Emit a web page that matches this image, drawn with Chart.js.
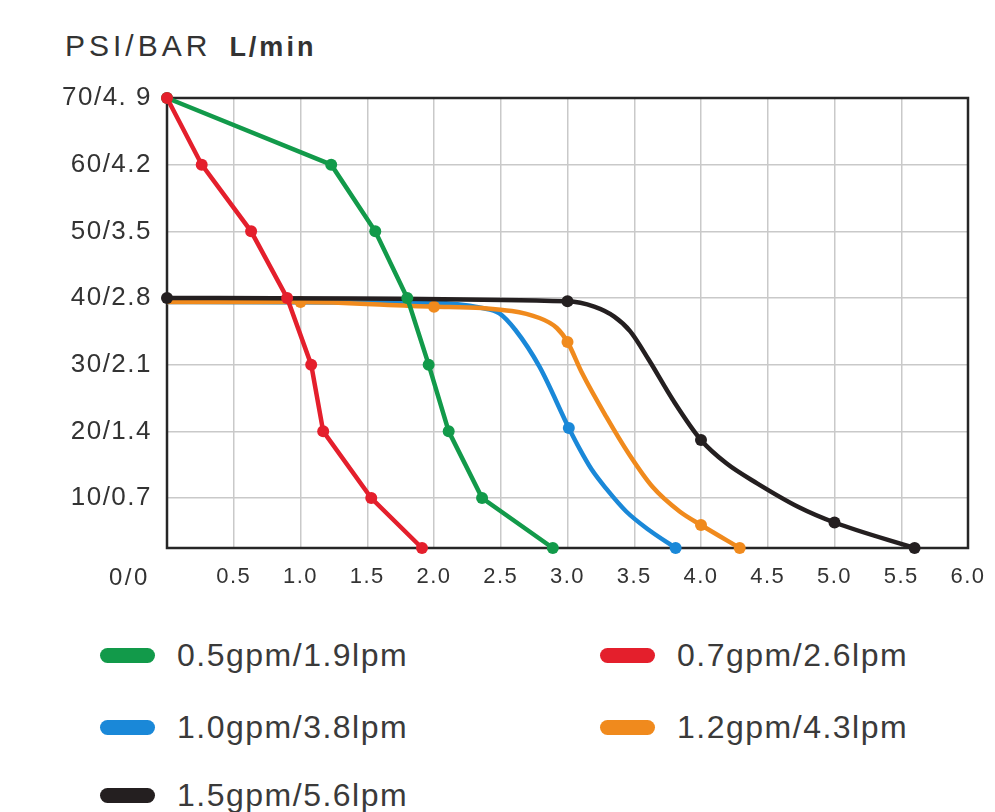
<!DOCTYPE html>
<html>
<head>
<meta charset="utf-8">
<script src="https://cdn.jsdelivr.net/npm/chart.js@4/dist/chart.umd.min.js"></script>
<style>
  body { margin: 0; background: #fff; width: 995px; height: 812px; overflow: hidden; position: relative;
         font-family: "Liberation Sans", Arial, sans-serif; color: #333; }
  #title { position: absolute; left: 65px; top: 31px; white-space: nowrap; line-height: 30px; }
  #title .unit1 { font-size: 30px; letter-spacing: 4px; }
  #title .unit2 { font-size: 27px; font-weight: bold; letter-spacing: 3px; margin-left: 18px; }
  #origin { position: absolute; left: 109px; top: 563px; font-size: 24px; letter-spacing: 2.5px; line-height: 28px; }
  #chartBox { position: absolute; left: 0; top: 0; width: 995px; height: 612px; }
  .legendItem { position: absolute; display: flex; align-items: center; height: 40px; white-space: nowrap; }
  .legendItem .swatch { width: 55px; height: 15px; border-radius: 8px; margin-right: 22px; }
  .legendItem .txt { font-size: 32px; letter-spacing: 1.5px; color: #3a3a3a; }
</style>
</head>
<body>
<div id="title"><span class="unit1">PSI/BAR</span><span class="unit2">L/min</span></div>
<div id="chartBox"><canvas id="pumpChart"></canvas></div>
<div id="origin"></div>
<div id="legend"></div>
<script>
// Axes
const xTicks = [0, 0.5, 1, 1.5, 2, 2.5, 3, 3.5, 4, 4.5, 5, 5.5, 6];
const xTickLabels = ["", "0.5", "1.0", "1.5", "2.0", "2.5", "3.0", "3.5", "4.0", "4.5", "5.0", "5.5", "6.0"];
const yTicks = [10, 20, 30, 40, 50, 60, 70];
const yTickLabels = ["10/0.7", "20/1.4", "30/2.1", "40/2.8", "50/3.5", "60/4.2", "70/4. 9"];
const originLabel = "0/0";

// Series
const seriesNames = ["0.5gpm/1.9lpm", "0.7gpm/2.6lpm", "1.0gpm/3.8lpm", "1.2gpm/4.3lpm", "1.5gpm/5.6lpm"];
const seriesColors = ["#129a4a", "#e41f2c", "#1a88d8", "#f08a1d", "#241f20"];

// 0.5gpm
const greenX = [0, 1.23, 1.56, 1.80, 1.96, 2.11, 2.36, 2.89];
const greenY = [70, 60, 50, 40, 30, 20, 10, 0];
const greenMarks = [1, 1, 1, 1, 1, 1, 1, 1];
// 0.7gpm
const redX = [0, 0.26, 0.63, 0.90, 1.08, 1.17, 1.53, 1.91];
const redY = [70, 60, 50, 40, 30, 20, 10, 0];
const redMarks = [1, 1, 1, 1, 1, 1, 1, 1];
// 1.0gpm
const blueX = [0, 2.0, 2.36, 2.49, 2.61, 2.79, 3.01, 3.09, 3.18, 3.29, 3.44, 3.61, 3.81];
const blueY = [39.4, 39.3, 38.5, 37.7, 35.2, 29.7, 20.5, 17.4, 14.3, 11.4, 7.3, 3.6, 0];
const blueMarks = [0, 0, 0, 0, 0, 0, 1, 0, 0, 0, 0, 0, 1];
// 1.2gpm
const orangeX = [0, 1.0, 2.0, 2.36, 2.79, 2.92, 3.0, 3.11, 3.29, 3.46, 3.64, 3.84, 4.0, 4.29];
const orangeY = [39.4, 39.4, 38.7, 38.5, 37.0, 35.5, 33.4, 28.7, 22.2, 16.6, 11.6, 7.3, 4.6, 0];
const orangeMarks = [0, 1, 1, 0, 0, 0, 1, 0, 0, 0, 0, 0, 1, 1];
// 1.5gpm
const blackX = [0, 3.0, 3.2, 3.35, 3.47, 3.61, 3.79, 4.0, 4.19, 4.42, 4.73, 5.0, 5.6];
const blackY = [40, 39.5, 38.7, 37.2, 35.0, 30.7, 24.7, 18.7, 15.2, 12.2, 8.2, 5.1, 0];
const blackMarks = [1, 1, 0, 0, 0, 0, 0, 1, 0, 0, 0, 1, 1];

// the original squeezes the 0-10 band: the bottom edge sits at 2.5 on the linear scale
function toChartY(v) {
  return v < 10 ? 2.5 + v * 0.75 : v;
}

function makeDataset(i, xs, ys, marks, smooth, order) {
  return {
    label: seriesNames[i],
    data: xs.map((x, k) => ({ x: x, y: toChartY(ys[k]) })),
    borderColor: seriesColors[i],
    backgroundColor: seriesColors[i],
    borderWidth: 4.5,
    pointRadius: marks.map((m) => (m ? 6 : 0)),
    pointBorderWidth: 0,
    pointBackgroundColor: seriesColors[i],
    tension: 0,
    cubicInterpolationMode: smooth ? "monotone" : "default",
    clip: false,
    order: order,
  };
}

const datasets = [
  makeDataset(0, greenX, greenY, greenMarks, false, 1),
  makeDataset(1, redX, redY, redMarks, false, 0),
  makeDataset(2, blueX, blueY, blueMarks, true, 4),
  makeDataset(3, orangeX, orangeY, orangeMarks, true, 3),
  makeDataset(4, blackX, blackY, blackMarks, true, 2),
];

// cadre noir autour de la zone du graphique + espacement des lettres
const framePlugin = {
  id: "frame",
  beforeDraw(chart) {
    chart.ctx.letterSpacing = "1.5px";
  },
  beforeDatasetsDraw(chart) {
    const { ctx, chartArea: a } = chart;
    ctx.save();
    ctx.strokeStyle = "#262626";
    ctx.lineWidth = 2.5;
    ctx.strokeRect(a.left, a.top, a.right - a.left, a.bottom - a.top);
    ctx.restore();
  },
};

Chart.defaults.font.family = '"Liberation Sans", Arial, sans-serif';
Chart.defaults.color = "#333";

const ctx = document.getElementById("pumpChart").getContext("2d");
new Chart(ctx, {
  type: "line",
  data: { datasets: datasets },
  options: {
    responsive: true,
    maintainAspectRatio: false,
    animation: false,
    events: [],
    layout: { padding: { top: 98, right: 27, left: 0, bottom: 0 } },
    plugins: { legend: { display: false }, tooltip: { enabled: false } },
    scales: {
      x: {
        type: "linear",
        min: 0,
        max: 6,
        afterBuildTicks: (scale) => { scale.ticks = xTicks.map((v) => ({ value: v })); },
        afterFit: (scale) => {
          scale.height = 64;
          scale.paddingLeft = 0;
          scale.paddingRight = 0;
        },
        ticks: {
          autoSkip: false,
          maxRotation: 0,
          padding: 16,
          font: { size: 22 },
          color: "#333",
          callback: (value, index) => xTickLabels[index],
        },
        grid: { color: "#c9c9c9", lineWidth: 1.5, drawTicks: false },
        border: { display: false },
      },
      y: {
        type: "linear",
        min: 2.5,
        max: 70,
        afterBuildTicks: (scale) => { scale.ticks = yTicks.map((v) => ({ value: v })); },
        afterFit: (scale) => { scale.width = 167; },
        ticks: {
          autoSkip: false,
          padding: 15,
          font: { size: 26 },
          color: "#333",
          callback: (value, index) => yTickLabels[index],
        },
        grid: { color: "#c9c9c9", lineWidth: 1.5, drawTicks: false },
        border: { display: false },
      },
    },
  },
  plugins: [framePlugin],
});

document.getElementById("origin").textContent = originLabel;

// légende en deux colonnes
const legendBox = document.getElementById("legend");
const rowCenters = [655, 727, 795];
seriesNames.forEach((name, i) => {
  const item = document.createElement("div");
  item.className = "legendItem";
  item.style.left = (100 + (i % 2) * 500) + "px";
  item.style.top = (rowCenters[Math.floor(i / 2)] - 20) + "px";
  const sw = document.createElement("span");
  sw.className = "swatch";
  sw.style.background = seriesColors[i];
  const txt = document.createElement("span");
  txt.className = "txt";
  txt.textContent = name;
  item.appendChild(sw);
  item.appendChild(txt);
  legendBox.appendChild(item);
});
</script>
</body>
</html>
